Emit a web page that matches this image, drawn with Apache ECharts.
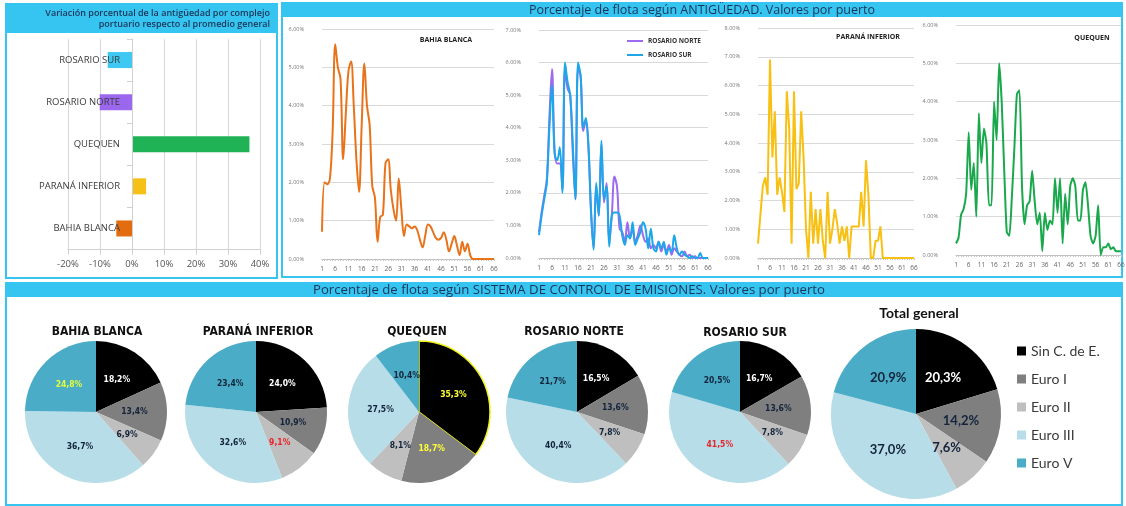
<!DOCTYPE html>
<html><head><meta charset="utf-8">
<script src="https://cdn.jsdelivr.net/npm/echarts@6/dist/echarts.min.js"></script>
<style>html,body{margin:0;padding:0;background:#fff}#c{width:1126px;height:506px}</style>
</head><body><div id="c"></div><script>
// ---------- DATA ----------
const barCategories = ['BAHIA BLANCA', 'PARANÁ INFERIOR', 'QUEQUEN', 'ROSARIO NORTE', 'ROSARIO SUR'];
const barValues = [-4.9, 4.4, 36.7, -10.1, -7.6];
const barTicks = [-20, -10, 0, 10, 20, 30, 40];

const ages = ['1','2','3','4','5','6','7','8','9','10','11','12','13','14','15','16','17','18','19','20','21','22','23','24','25','26','27','28','29','30','31','32','33','34','35','36','37','38','39','40','41','42','43','44','45','46','47','48','49','50','51','52','53','54','55','56','57','58','59','60','61','62','63','64','65','66'];

const bahiaBlanca = [0.71,2.0,1.95,2.1,3.3,5.6,5.0,4.7,2.6,3.8, 4.9,5.15,4.0,2.6,1.75,3.5,5.1,4.0,3.5,1.9, 1.6,0.45,1.1,1.15,2.5,2.6,1.8,1.3,1.0,2.1, 1.3,0.6,0.9,0.85,0.8,0.85,0.75,0.5,0.3,0.6, 0.9,0.85,0.7,0.55,0.5,0.55,0.7,0.5,0.2,0.4, 0.6,0.35,0.1,0.45,0.2,0.4,0.1,0,0,0, 0,0,0,0,0,0];
const rosarioNorte = [0.8,1.4,1.9,2.4,4.3,5.8,3.3,2.9,2.9,2.1, 5.8,5.2,5.0,3.2,1.8,5.8,5.6,3.9,4.2,3.4, 1.4,0.3,2.2,1.3,3.5,1.7,2.3,0.5,1.3,2.5, 2.2,0.9,0.8,0.5,1.1,0.6,0.9,0.5,0.7,1.0, 0.7,0.5,0.6,0.3,0.4,0.3,0.5,0.2,0.4,0.2, 0.4,0.1,0.3,0.2,0.1,0.05,0.2,0.05,0.1,0, 0.05,0,0,0,0,0];
const rosarioSur = [0.7,1.3,1.8,2.3,4.0,5.3,3.2,3.0,3.4,2.0, 6.0,5.4,5.0,3.5,1.8,6.0,5.6,4.0,4.3,3.5, 1.5,0.25,2.3,1.3,3.6,1.8,2.2,0.35,1.3,1.4, 1.4,1.3,0.7,0.4,0.7,0.6,1.1,0.4,0.6,0.8, 1.1,0.9,0.3,0.9,0.3,0.2,0.5,0.3,0.5,0.1, 0.3,0.2,0.7,0.3,0.1,0.2,0.1,0.05,0,0.05, 0,0,0.15,0,0,0];
const paranaInferior = [0.5,1.5,2.5,2.8,2.2,6.9,3.5,5.1,2.2,2.8, 2.3,1.6,5.8,4.5,0.5,5.8,2.4,2.6,5.1,3.5, 1.0,0.0,2.3,0.5,1.7,0.5,1.7,0.6,0.0,2.3, 0.5,1.0,1.7,1.2,0.5,1.1,0.6,1.1,0.0,1.1, 1.1,1.1,1.1,2.3,1.1,3.4,2.2,0.0,0.0,0.6, 0.6,1.1,0.0,0,0,0,0,0,0,0, 0,0,0,0,0,0];
const quequen = [0.3,0.45,1.05,1.2,1.6,3.2,1.7,2.4,1.0,3.7, 2.4,3.3,2.9,1.3,1.3,4.0,3.0,5.0,4.0,2.2, 0.6,0.5,1.5,2.8,4.2,4.3,1.8,0.8,1.3,1.4, 2.2,1.4,0.8,1.1,0.1,1.1,0.65,0.9,0.8,2.0, 1.1,2.0,0.3,1.6,0.8,1.8,2.0,1.8,0.9,0.9, 1.7,1.9,1.3,0.5,0.3,0.5,1.3,0.0,0.2,0.2, 0.3,0.15,0.2,0.1,0.1,0.1];

const emissionCategories = ['Sin C. de E.', 'Euro I', 'Euro II', 'Euro III', 'Euro V'];
const pieTitles = ['BAHIA BLANCA', 'PARANÁ INFERIOR', 'QUEQUEN', 'ROSARIO NORTE', 'ROSARIO SUR', 'Total general'];
const pieBahiaBlanca = [18.2, 13.4, 6.9, 36.7, 24.8];
const pieParanaInferior = [24.0, 10.9, 9.1, 32.6, 23.4];
const pieQuequen = [35.3, 18.7, 8.1, 27.5, 10.4];
const pieRosarioNorte = [16.5, 13.6, 7.8, 40.4, 21.7];
const pieRosarioSur = [16.7, 13.6, 7.8, 41.5, 20.5];
const pieTotal = [20.3, 14.2, 7.6, 37.0, 20.9];

// ---------- STYLE ----------
const CYAN = '#36c4f0';
const NAVY = '#1b3558';
const DARK = '#13243c';
const barColors = ['#e36c0f', '#f5c116', '#1fb356', '#9b67ee', '#3ec8f2'];
const pieColors = ['#000000', '#7f7f7f', '#bfbfbf', '#b7dde8', '#4aacc6'];
const pieLayout = [
  {c: [96, 412], r: 71, fs: 8.5},
  {c: [256, 412], r: 71, fs: 8.5},
  {c: [419, 412], r: 71, fs: 8.5},
  {c: [577, 412], r: 71, fs: 8.5},
  {c: [740, 412], r: 71, fs: 8.5},
  {c: [916, 414], r: 85, fs: 13}
];
const pieTitlePos = [[97, 332], [258, 332], [417, 332], [574, 332], [745, 333], [919, 313]];
const pieLabelColors = [
  ['#fff', DARK, DARK, DARK, '#e2ff3a'],
  ['#fff', DARK, '#e8242a', DARK, DARK],
  ['#ffff3a', '#ffff3a', DARK, DARK, DARK],
  ['#fff', DARK, DARK, DARK, DARK],
  ['#fff', DARK, DARK, '#e8242a', DARK],
  ['#fff', DARK, DARK, DARK, DARK]
];
const pieSets = [pieBahiaBlanca, pieParanaInferior, pieQuequen, pieRosarioNorte, pieRosarioSur, pieTotal];

const lineGrids = [
  {left: 322, top: 29, width: 172, height: 230, max: 6, sep: ','},
  {left: 539, top: 30, width: 169, height: 228, max: 7, sep: '.'},
  {left: 758, top: 28, width: 156, height: 230, max: 8, sep: '.'},
  {left: 956, top: 25, width: 165, height: 230, max: 6, sep: '.'}
];

const chart = echarts.init(document.getElementById('c'), null, {renderer: 'canvas'});

const barGrid = {left: 68, top: 39, width: 192, height: 210.5, containLabel: false, outerBoundsMode: 'none'};
const zeroOffset = barGrid.width * (0 - barTicks[0]) / (barTicks[barTicks.length - 1] - barTicks[0]);
const grids = [barGrid];
const xAxes = [{
  type: 'value', gridIndex: 0, min: barTicks[0], max: barTicks[barTicks.length - 1], interval: 10,
  axisLine: {show: true, lineStyle: {color: '#d0d0d0'}}, axisTick: {show: true, lineStyle: {color: '#d0d0d0'}},
  splitLine: {lineStyle: {color: '#d6d6d6'}},
  axisLabel: {formatter: '{value}%', fontSize: 9.5, color: '#555', margin: 10, fontFamily: 'Open Sans'}
}];
const yAxes = [{
  type: 'category', gridIndex: 0, data: barCategories, z: 5, offset: -zeroOffset,
  axisLine: {onZero: false, lineStyle: {color: '#d0d0d0'}}, axisTick: {show: true, lineStyle: {color: '#d0d0d0'}},
  axisLabel: {fontSize: 9.5, color: '#3a3a3a', margin: 12, fontFamily: 'Open Sans'}
}];
lineGrids.forEach((g, i) => {
  grids.push({left: g.left, top: g.top, width: g.width, height: g.height, containLabel: false, outerBoundsMode: 'none'});
  xAxes.push({
    type: 'category', gridIndex: i + 1, data: ages, boundaryGap: false,
    axisLine: {lineStyle: {color: '#bfbfbf'}},
    axisTick: {show: true, interval: 0, length: 2, lineStyle: {color: '#c8c8c8'}},
    axisLabel: {interval: 4, fontSize: 6.5, color: '#666', margin: 7, fontFamily: 'Open Sans'}
  });
  yAxes.push({
    type: 'value', gridIndex: i + 1, min: 0, max: g.max, interval: 1,
    axisLine: {show: false}, axisTick: {show: false},
    splitLine: {lineStyle: {color: '#d9d9d9'}},
    axisLabel: {fontSize: 5.5, color: '#777', margin: 18, fontFamily: 'Open Sans',
      formatter: v => v.toFixed(2).replace('.', g.sep) + '%'}
  });
});

const series = [{
  type: 'bar', xAxisIndex: 0, yAxisIndex: 0, data: barValues, barWidth: 16,
  itemStyle: {color: p => barColors[p.dataIndex]}
}];
const lineDefs = [
  {name: 'BAHIA BLANCA', data: bahiaBlanca, g: 1, color: '#e8731a', smooth: 0.35},
  {name: 'ROSARIO NORTE', data: rosarioNorte, g: 2, color: '#9b6bf0', smooth: 0.35},
  {name: 'ROSARIO SUR', data: rosarioSur, g: 2, color: '#1ea7e8', smooth: 0.35},
  {name: 'PARANÁ INFERIOR', data: paranaInferior, g: 3, color: '#f7c012', smooth: false},
  {name: 'QUEQUEN', data: quequen, g: 4, color: '#1aa84c', smooth: 0.2}
];
lineDefs.forEach(d => {
  series.push({
    type: 'line', name: d.name, xAxisIndex: d.g, yAxisIndex: d.g, data: d.data,
    smooth: d.smooth, symbol: 'none', lineStyle: {color: d.color, width: 2}, itemStyle: {color: d.color}
  });
});
pieSets.forEach((vals, k) => {
  const L = pieLayout[k];
  series.push({
    type: 'pie', name: pieTitles[k], center: L.c, radius: L.r, startAngle: 90, clockwise: true,
    label: {show: true, position: 'inside', fontSize: L.fs, fontWeight: 'bold',
      fontFamily: k === 5 ? 'Lato' : '"DejaVu Sans Condensed", "Liberation Sans Narrow", sans-serif',
      formatter: p => p.value.toFixed(1).replace('.', ',') + '%'},
    labelLine: {show: false},
    emphasis: {disabled: true},
    data: vals.map((v, j) => ({
      name: emissionCategories[j], value: v,
      itemStyle: (k === 2 && j === 0) ? {color: pieColors[j], borderColor: '#f2f21a', borderWidth: 1.5} : {color: pieColors[j], borderWidth: 0},
      label: {color: pieLabelColors[k][j]}
    }))
  });
});

const text = (t, x, y, size, weight, fill, align, family) => ({
  type: 'text', x: x, y: y, z: 10,
  style: {text: t, fontSize: size, fontWeight: weight, fill: fill, textAlign: align || 'center', textVerticalAlign: 'middle',
    fontFamily: family || 'Open Sans'}
});

const graphic = [
  {type: 'rect', shape: {x: 6, y: 4, width: 271, height: 274}, style: {fill: '#fff', stroke: CYAN, lineWidth: 2}, z: -10},
  {type: 'rect', shape: {x: 6, y: 4, width: 271, height: 29}, style: {fill: CYAN}, z: -9},
  {type: 'rect', shape: {x: 282, y: 3, width: 840, height: 274}, style: {fill: '#fff', stroke: CYAN, lineWidth: 2}, z: -10},
  {type: 'rect', shape: {x: 282, y: 3, width: 840, height: 14}, style: {fill: CYAN}, z: -9},
  {type: 'rect', shape: {x: 6, y: 283, width: 1116, height: 222}, style: {fill: '#fff', stroke: CYAN, lineWidth: 2}, z: -10},
  {type: 'rect', shape: {x: 6, y: 283, width: 1116, height: 14}, style: {fill: CYAN}, z: -9},
  text('Variación porcentual de la antigüedad por complejo', 270, 13, 9, '600', NAVY, 'right'),
  text('portuario respecto al promedio general', 270, 24, 9, '600', NAVY, 'right'),
  text('Porcentaje de flota según ANTIGÜEDAD. Valores por puerto', 702, 10, 12.5, 'normal', NAVY),
  text('Porcentaje de flota según SISTEMA DE CONTROL DE EMISIONES. Valores por puerto', 569, 290, 13.2, 'normal', NAVY),
  text('BAHIA BLANCA', 446, 40, 7, 'bold', '#222'),
  text('PARANÁ INFERIOR', 868, 37, 7, 'bold', '#222'),
  text('QUEQUEN', 1092, 38, 7, 'bold', '#222')
];
pieTitles.forEach((t, k) => {
  const p = pieTitlePos[k];
  graphic.push(k === 5 ? text(t, p[0], p[1], 14, 'bold', '#111', 'center', 'Lato')
    : text(t, p[0], p[1], 12, 'bold', '#111', 'center', '"DejaVu Sans Condensed", sans-serif'));
});

chart.setOption({
  animation: false,
  backgroundColor: '#fff',
  grid: grids, xAxis: xAxes, yAxis: yAxes, series: series, graphic: graphic,
  legend: [
    {data: emissionCategories, orient: 'vertical', left: 1012, top: 337, icon: 'rect', itemWidth: 9, itemHeight: 9,
      itemGap: 10, selectedMode: false,
      textStyle: {fontSize: 14, lineHeight: 18, color: '#3a3a3a', fontFamily: 'Lato'}},
    {data: ['ROSARIO NORTE', 'ROSARIO SUR'], orient: 'vertical', left: 622, top: 32, icon: 'rect', itemWidth: 16, itemHeight: 2,
      itemGap: 6, selectedMode: false,
      textStyle: {fontSize: 6.5, lineHeight: 8, fontWeight: 'bold', color: '#333', fontFamily: 'Open Sans'}}
  ]
});
</script></body></html>
